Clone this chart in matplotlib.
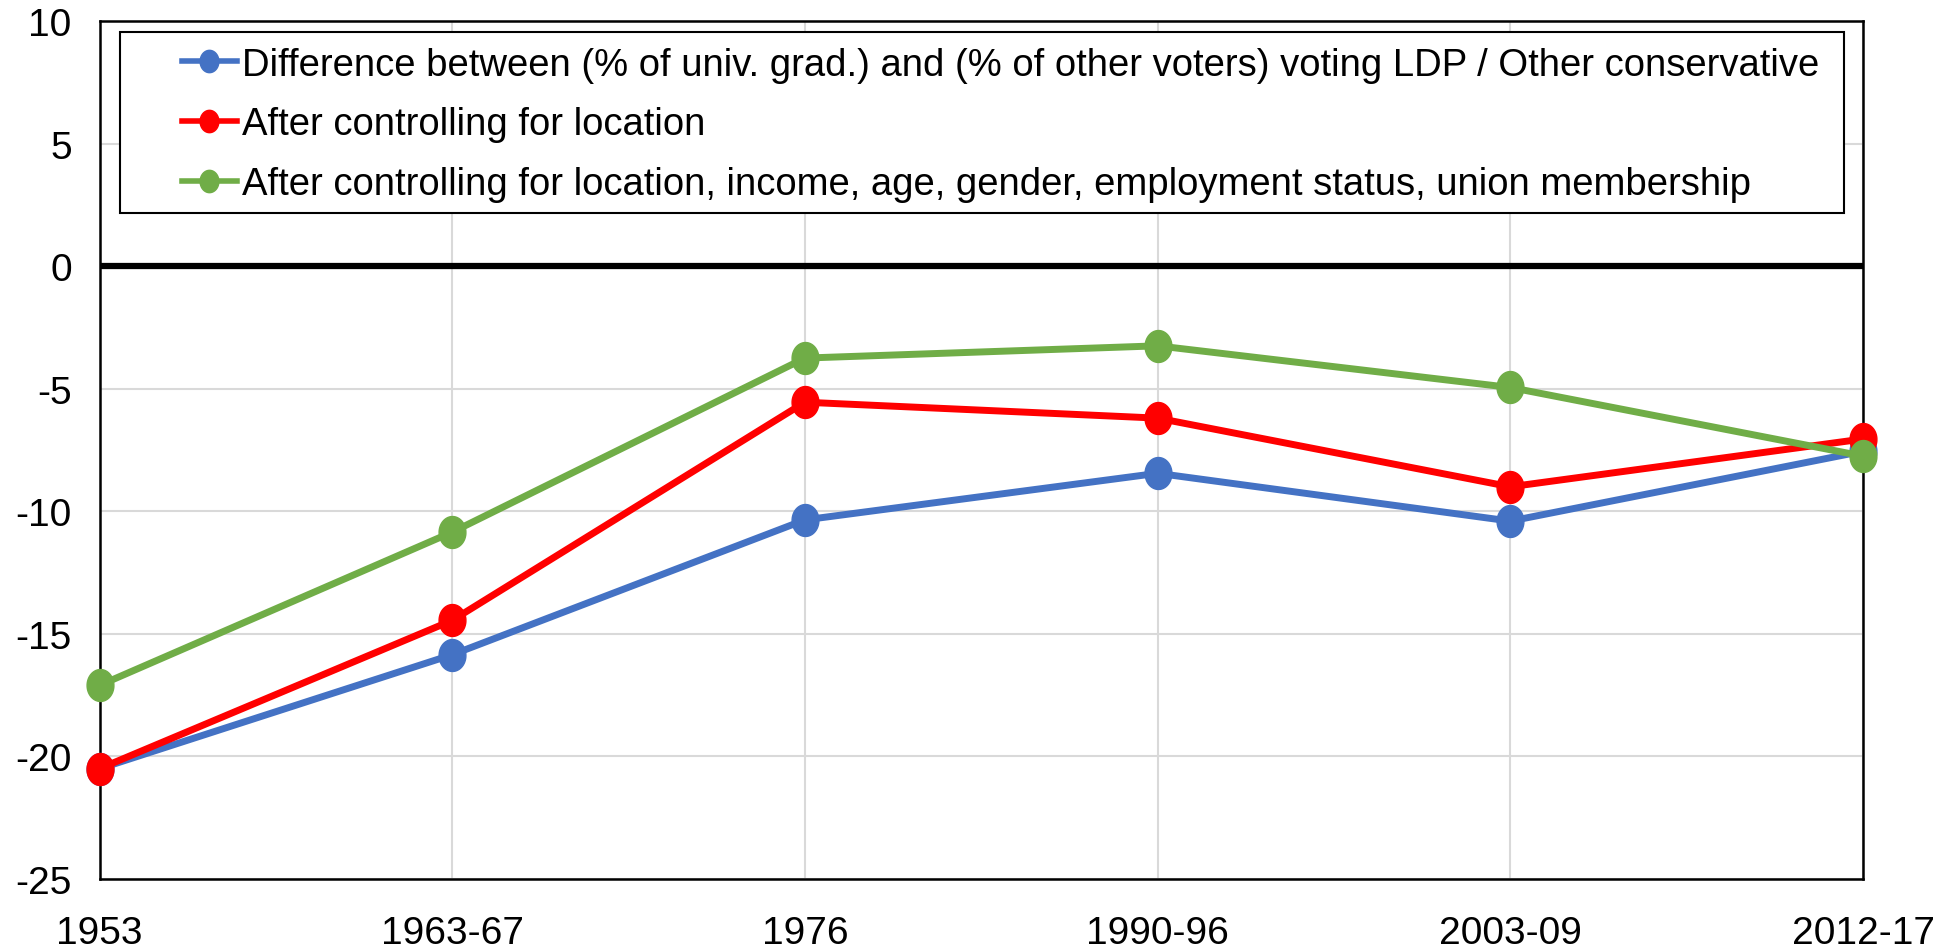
import matplotlib
matplotlib.use("Agg")
import matplotlib.pyplot as plt
from matplotlib.path import Path
from matplotlib.markers import MarkerStyle
from matplotlib.patches import Rectangle
import numpy as np

periods = ["1953", "1963-67", "1976", "1990-96", "2003-09", "2012-17"]
raw_diff = [-20.5, -15.85, -10.35, -8.45, -10.4, -7.55]
ctrl_location = [-20.5, -14.45, -5.55, -6.2, -9.0, -7.05]
ctrl_all = [-17.1, -10.85, -3.75, -3.25, -4.95, -7.75]

labels = [
    "Difference between (% of univ. grad.) and (% of other voters) voting LDP / Other conservative",
    "After controlling for location",
    "After controlling for location, income, age, gender, employment status, union membership",
]
colors = ["#4472c4", "#ff0000", "#70ad47"]

plt.rcParams['font.family'] = ['Liberation Sans', 'DejaVu Sans']
plt.rcParams['axes.unicode_minus'] = False

# slightly tall ellipse marker (reference image is squeezed sideways)
t = np.linspace(0, 2 * np.pi, 60)
ellipse = Path(np.column_stack([0.42 * np.cos(t), 0.5 * np.sin(t)]))
mk = MarkerStyle(ellipse)

fig = plt.figure(figsize=(19.51, 9.53), dpi=100)
ax = fig.add_axes([0.051, 0.0766, 0.9039, 0.9003])

x = np.arange(len(periods))
for ys, lab, c in zip([raw_diff, ctrl_location, ctrl_all], labels, colors):
    ax.plot(x, ys, color=c, lw=5, marker=mk, ms=23, mec=c, mfc=c, label=lab,
            clip_on=False, zorder=3)

ax.axhline(0, color="black", lw=4.5, zorder=2)
ax.set_xlim(0, len(periods) - 1)
ax.set_ylim(-25, 10)
ax.set_yticks(range(-25, 11, 5))
ax.set_xticks(x)
ax.set_xticklabels(periods)
ax.grid(True, color="#d9d9d9", lw=1.5, zorder=0)
ax.set_axisbelow(True)
ax.tick_params(length=0, labelsize=28, colors="black")
ax.tick_params(axis="x", pad=26)
ax.tick_params(axis="y", pad=20)
for s in ax.spines.values():
    s.set_color("black")
    s.set_linewidth(1.8)

# legend box drawn separately: its left padding is wider than the top one
ax.add_patch(Rectangle((0.0116, 0.776), 0.9774, 0.211, transform=ax.transAxes,
                       fill=True, facecolor="white", edgecolor="black", lw=1.5,
                       zorder=4, clip_on=False))
leg = ax.legend(loc="upper left", bbox_to_anchor=(0.0468, 0.970), fontsize=27.5,
                frameon=False, handlelength=1.43, handletextpad=0.13,
                borderpad=0, labelspacing=0.62, borderaxespad=0, markerscale=0.7)
leg.set_zorder(5)
for h in leg.get_lines():
    h.set_linewidth(4)

fig.savefig("out.png", dpi=100)
